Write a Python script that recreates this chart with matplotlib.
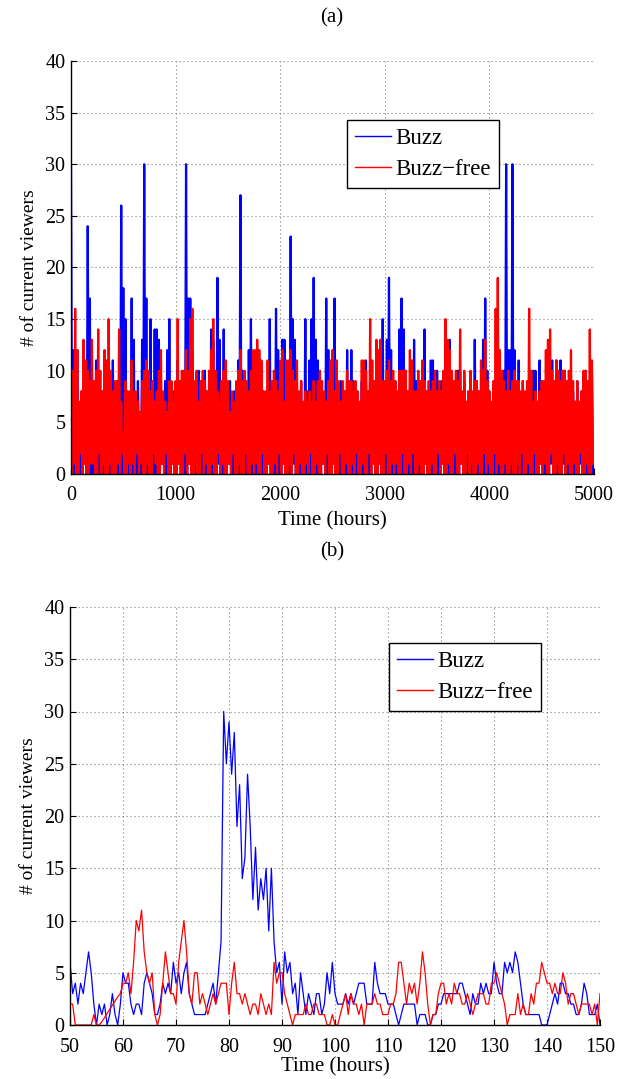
import numpy as np
import matplotlib
matplotlib.use("Agg")
import matplotlib.pyplot as plt

plt.rcParams['font.family'] = ['Liberation Serif', 'DejaVu Serif']

# ---------------- data: panel (a), 20-hour bins (peak / trough per bin) ----------------
BIN_HOURS = 20
buzz_hi = [
    30,12,7,12,6,8,5,9,24,17,
    6,8,11,7,5,8,9,6,8,7,
    11,6,9,7,26,18,15,8,6,17,
    13,7,9,6,13,30,17,8,15,6,
    14,14,13,8,6,9,12,15,7,8,
    6,11,8,7,9,30,17,17,12,8,
    6,10,9,7,10,8,6,14,13,8,
    19,13,7,14,8,6,9,5,8,7,
    11,27,10,8,6,12,15,9,7,8,
    6,9,8,7,8,15,7,6,16,12,
    9,13,13,8,6,23,15,13,8,7,
    9,6,15,8,11,15,19,13,11,7,
    8,6,17,12,9,7,17,8,6,9,
    7,8,12,6,12,9,7,8,6,9,
    7,11,8,6,9,7,8,6,13,15,
    8,13,19,12,7,9,6,14,17,14,
    10,8,6,7,13,9,7,8,6,14,
    8,7,11,11,6,10,8,9,7,6,
    9,13,7,8,6,10,10,7,9,6,
    8,7,6,13,9,8,7,13,17,10,
    8,6,9,7,8,6,9,10,30,12,
    12,30,12,8,11,7,9,6,8,7,
    8,10,10,7,11,9,6,8,7,9,
    11,8,11,6,11,8,10,7,9,6,
    8,7,9,6,8,7,10,8,6,10,
]
buzz_lo = [
    0,0,1,0,0,0,1,0,0,0, 0,1,0,0,0,0,1,0,0,0, 1,0,0,0,0,1,0,0,0,0,
    0,0,1,0,0,0,0,1,0,0, 0,0,0,1,0,0,0,0,1,0, 0,1,0,0,0,0,1,0,0,0,
    0,0,0,1,0,0,0,0,0,1, 1,0,0,0,0,1,0,0,0,0, 0,0,1,0,0,0,0,1,0,0,
    0,0,0,0,1,0,0,0,1,0, 0,1,0,0,0,0,1,0,0,0, 0,0,0,1,0,0,0,0,1,0,
    1,0,0,0,0,1,0,0,0,0, 0,0,1,0,0,0,0,0,1,0, 0,0,0,0,1,0,0,1,0,0,
    0,1,0,0,0,0,1,0,0,0, 1,0,0,0,1,0,0,0,0,1, 0,0,0,1,0,0,0,1,0,0,
    0,1,0,0,0,0,1,0,0,0, 0,0,0,1,0,0,0,0,1,0, 1,0,0,0,0,1,0,0,0,0,
    0,0,1,0,0,0,1,0,0,0, 0,0,0,0,1,0,0,0,0,1, 0,1,0,0,0,1,0,0,0,0,
    0,0,0,1,0,0,0,1,0,0,
]
free_hi = [
    7,10,16,12,7,8,13,11,10,9,13,9,10,14,10,8,12,11,15,10,8,9,9,14,7,4,9,8,8,11,
    8,8,7,6,9,10,11,10,8,9,7,8,10,12,8,7,6,9,9,7,9,15,9,10,10,12,10,15,16,9,10,7,9,
    10,9,8,10,12,15,10,8,7,9,10,11,9,6,8,7,9,10,12,9,10,9,8,10,12,12,13,12,11,8,8,
    11,8,9,10,9,8,11,12,7,11,11,12,10,9,11,8,9,7,8,7,8,7,9,7,9,10,9,8,7,9,11,
    12,8,11,9,7,9,8,10,9,9,8,9,8,7,11,11,10,8,15,11,9,13,12,13,9,9,10,11,9,10,9,
    8,10,10,10,10,8,12,11,8,8,10,9,11,9,8,9,8,9,10,8,9,8,10,15,13,12,10,9,10,9,14,
    8,10,7,8,10,8,9,9,8,11,10,13,9,8,7,9,16,19,12,10,9,8,10,8,9,10,9,9,8,9,8,9,
    16,10,7,8,7,8,9,9,12,13,14,10,9,11,10,9,10,10,9,10,12,9,7,9,7,8,10,10,9,14,11,
]
free_lo = [
    0,1,0,0,2,0,1,0,0,1, 1,0,0,2,0,1,0,0,1,0, 0,0,1,0,2,0,0,1,0,1,
    0,2,0,1,0,0,1,0,0,2, 1,0,0,1,0,2,0,0,1,0, 0,1,0,0,2,0,1,0,0,1,
    0,0,2,0,1,0,0,1,0,0, 2,0,1,0,0,1,0,2,0,0, 1,0,0,2,0,0,1,0,1,0,
    0,2,0,0,1,0,0,1,0,2, 0,1,0,0,1,0,2,0,0,1, 0,0,1,0,2,0,0,1,0,0,
    1,0,2,0,0,1,0,0,2,0, 0,1,0,0,1,0,2,0,0,1, 0,0,2,0,1,0,0,1,0,0,
    2,0,0,1,0,1,0,0,2,0, 0,1,0,2,0,0,1,0,0,1, 0,0,1,0,0,2,0,1,0,0,
    1,0,0,2,0,0,1,0,0,2, 0,1,0,0,1,0,0,2,0,1, 0,0,2,0,1,0,0,1,0,0,
    1,0,0,1,0,2,0,0,1,0, 0,2,0,0,1,0,1,0,0,2, 0,0,1,0,0,2,0,1,0,0,
    1,0,0,2,0,0,1,0,0,1,
]

# ---------------- data: panel (b), half-hour samples from 50 to 150 h ----------------
T_START, T_STEP = 50, 0.5
buzz_zoom = [
    6,3,4,2,4,3,5,7,5,2,  0,2,1,2,0,1,3,1,0,2,
    5,4,4,2,1,2,2,1,4,5,  4,3,1,1,2,4,3,4,3,6,
    4,5,3,5,6,3,2,1,1,1,  1,1,2,3,4,2,5,8,30,25,
    29,24,28,19,23,14,16,24,19,12,  17,11,14,12,15,9,15,8,5,6,
    2,7,5,6,3,4,1,5,3,1,  3,2,1,3,3,1,2,5,3,6,
    3,2,2,2,3,2,3,2,3,4,  4,4,2,2,2,6,4,3,3,3,
    2,2,2,1,0,1,2,2,2,2,  2,0,1,1,1,0,0,1,1,2,
    2,3,3,3,3,3,3,4,4,3,  2,1,3,2,2,4,3,4,3,3,
    6,4,3,3,6,5,6,5,7,6,  4,2,1,1,1,1,1,1,0,0,
    0,1,2,3,2,4,4,3,3,2,  2,1,1,2,4,3,1,1,1,2,
    0,
]
free_zoom = [
    2,2,0,0,0,0,0,0,0,1,  0,0,0.3,0.7,1.1,1.5,1.9,2.3,2.7,3,
    4,4,5,3,6,10,9,11,7,5,  4,5,1,0,1,4,7,5,3,3,
    2,6,8,10,7,3,2,5,5,2,  3,2,1,2,3,2,3,4,4,4,
    1,4,6,3,3,2,3,2,1,2,  2,1,3,2,1,2,1,6,4,5,
    5,3,2,1,0,1,1,1,1,2,  1,1,2,2,1,1,1,0,0,1,
    0,0,1,2,3,1,3,2,2,1,  2,0,2,2,2,3,2,2,1,1,
    1,2,2,3,6,6,4,2,4,3,  4,2,4,7,5,2,0,1,1,3,
    4,4,2,3,2,4,3,3,2,2,  3,2,1,2,3,3,3,2,2,4,
    4,5,4,3,2,0,1,1,1,3,  1,2,1,1,3,2,4,4,6,5,
    4,4,3,4,3,3,5,4,2,3,  3,2,1,2,2,2,2,1,2,0,
    3,
]

labels = ["Buzz", "Buzz\u2212free"]
colors = ["#0000ff", "#ff0000"]


def zigzag(hi, lo):
    n = len(hi)
    x = np.empty(2 * n)
    y = np.empty(2 * n)
    x[0::2] = np.arange(n) * BIN_HOURS
    x[1::2] = np.arange(n) * BIN_HOURS + BIN_HOURS / 2
    y[0::2] = hi
    y[1::2] = lo
    return x, y


def style(ax, xlim, xticks, xlabelpad):
    ax.set_xlim(*xlim)
    ax.set_ylim(0, 40)
    ax.set_xticks(xticks)
    ax.set_yticks(np.arange(0, 41, 5))
    ax.grid(True, color="#808080", linestyle=(0, (1, 2.6)), linewidth=0.8)
    ax.spines['top'].set_visible(False)
    ax.spines['right'].set_visible(False)
    for s in ('left', 'bottom'):
        ax.spines[s].set_linewidth(1.0)
    ax.tick_params(direction='in', length=4, width=0.8, labelsize=14.5,
                   top=False, right=False)
    ax.tick_params(axis='x', pad=9)
    ax.tick_params(axis='y', pad=4)
    ax.set_xlabel("Time (hours)", fontsize=15, labelpad=xlabelpad)
    ax.set_ylabel("# of current viewers", fontsize=14, labelpad=5)


def add_legend(ax, anchor):
    leg = ax.legend(loc='upper left', bbox_to_anchor=anchor, fontsize=16.5,
                    fancybox=False, edgecolor='black', framealpha=1,
                    handlelength=1.55, borderpad=0.35, labelspacing=0.45,
                    handletextpad=0.2, borderaxespad=0)
    leg.get_frame().set_linewidth(1.0)
    for line in leg.get_lines():
        line.set_linewidth(1.0)


fig = plt.figure(figsize=(6.18, 10.79), dpi=100)

ax1 = fig.add_axes([71 / 618, 1 - 474 / 1079, 523 / 618, 413 / 1079])
xb, yb = zigzag(buzz_hi, buzz_lo)
xr, yr = zigzag(free_hi, free_lo)
ax1.plot(xb, yb, color=colors[0], lw=1.6, label=labels[0])
ax1.plot(xr, yr, color=colors[1], lw=1.6, label=labels[1])
style(ax1, (0, 5000), np.arange(0, 5001, 1000), 4)
add_legend(ax1, (0.528, 0.857))

ax2 = fig.add_axes([70 / 618, 1 - 1025 / 1079, 530 / 618, 418 / 1079])
t = T_START + T_STEP * np.arange(len(buzz_zoom))
ax2.plot(t, buzz_zoom, color=colors[0], lw=0.9, label=labels[0])
ax2.plot(t, free_zoom, color=colors[1], lw=0.9, label=labels[1])
style(ax2, (50, 150), np.arange(50, 151, 10), 0.5)
add_legend(ax2, (0.602, 0.914))

fig.text(332 / 618, 1 - 18 / 1079, "(a)", ha='center', va='center', fontsize=15)
fig.text(332 / 618, 1 - 552 / 1079, "(b)", ha='center', va='center', fontsize=15)

fig.savefig("out.png", dpi=100)
